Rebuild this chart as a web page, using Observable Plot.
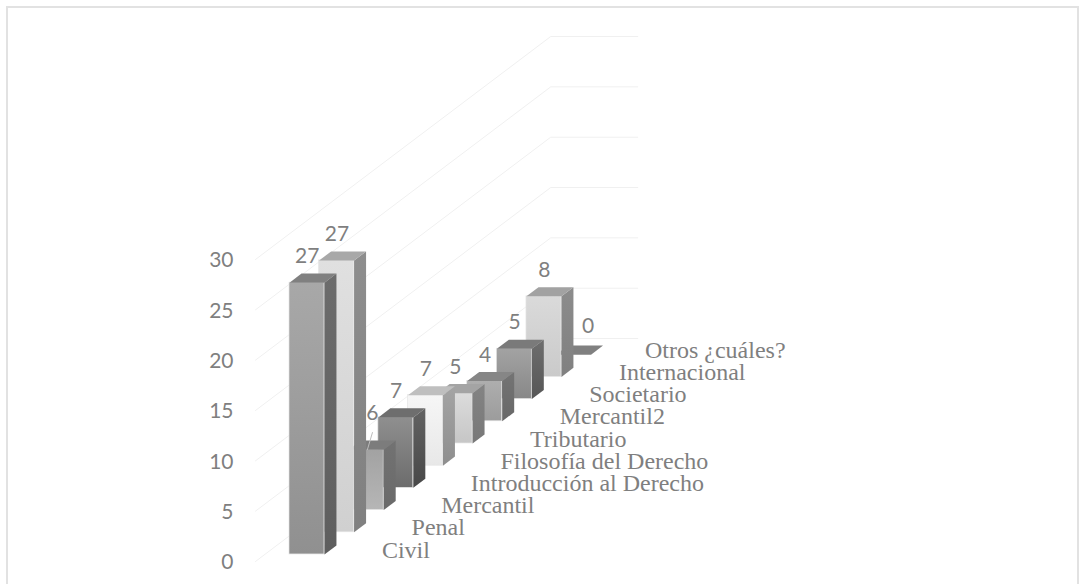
<!DOCTYPE html>
<html>
<head>
<meta charset="utf-8">
<script src="https://cdn.jsdelivr.net/npm/d3@7"></script>
<script src="https://cdn.jsdelivr.net/npm/@observablehq/plot@0.6"></script>
<style>
html,body{margin:0;padding:0;background:#fff;overflow:hidden}
#frame{position:absolute;left:6px;top:6px;width:1073px;height:620px;border:2px solid #e2e2e2;box-sizing:border-box}
#chart{position:absolute;left:0;top:0}
</style>
</head>
<body>
<div id="frame"></div>
<div id="chart"></div>
<script>
const categories = ["Civil","Penal","Mercantil","Introducción al Derecho","Filosofía del Derecho","Tributario","Mercantil2","Societario","Internacional","Otros ¿cuáles?"];
const values = [27,27,6,7,7,5,4,5,8,0];
const yTicks = [0,5,10,15,20,25,30];

// grey shades per bar: front gradient top, front gradient bottom, side top, side bottom, top face
const frontTop    = ["#a8a8a8","#e0e0e0","#a2a2a2","#8f8f8f","#f6f6f6","#dcdcdc","#aeaeae","#a3a3a3","#dadada","#808080"];
const frontBottom = ["#909090","#d0d0d0","#b6b6b6","#6c6c6c","#e8e8e8","#c6c6c6","#9c9c9c","#888888","#cacaca","#808080"];
const sideTop     = ["#6c6c6c","#8e8e8e","#727272","#626262","#a4a4a4","#848484","#747474","#6e6e6e","#8c8c8c","#808080"];
const sideBottom  = ["#5e5e5e","#808080","#6a6a6a","#484848","#8e8e8e","#787878","#686868","#565656","#808080","#808080"];
const topFace     = ["#808080","#a8a8a8","#7c7c7c","#6e6e6e","#bfbfbf","#a4a4a4","#868686","#7a7a7a","#a2a2a2","#808080"];

// oblique projection, in scale units (x: one category step, y: one value unit)
const rise = 2.205;      // vertical shift per category
const floorY = 0.7;      // bar base of first category
const barW = 1.18;       // bar width
const depX = 0.405;      // bar depth, horizontal
const depY = 0.9;        // bar depth, vertical

const bars = categories.map((c,i)=>({category:c,value:values[i],i,b:floorY+i*rise}));

const gridRows = yTicks.flatMap(t=>[
  {t,x:-1.149,y:t},
  {t,x:8.818,y:t+22.15},
  {t,x:11.757,y:t+22.15}
]);

const gradients = ()=>{
  const defs = d3.create("svg:defs");
  const add=(id,a,b)=>{
    const g=defs.append("linearGradient").attr("id",id).attr("x1",0).attr("x2",0).attr("y1",0).attr("y2",1);
    g.append("stop").attr("offset","0%").attr("stop-color",a);
    g.append("stop").attr("offset","100%").attr("stop-color",b);
  };
  bars.forEach(d=>{
    add("front"+d.i,frontTop[d.i],frontBottom[d.i]);
    add("side"+d.i,sideTop[d.i],sideBottom[d.i]);
  });
  return defs.node();
};

const barMarks = bars.slice().reverse().flatMap(d=>{
  const {i,b,value:v}=d;
  const side=[[i+barW,b],[i+barW+depX,b+depY],[i+barW+depX,b+depY+v],[i+barW,b+v]];
  const top=[[i,b+v],[i+barW,b+v],[i+barW+depX,b+v+depY],[i+depX,b+v+depY]];
  const marks=[];
  if(v>0){
    marks.push(Plot.rect([d],{x1:()=>i,x2:()=>i+barW,y1:()=>b,y2:()=>b+v,fill:`url(#front${i})`,stroke:"#e4e4e4",strokeWidth:0.7}));
    marks.push(Plot.line(side,{x:p=>p[0],y:p=>p[1],fill:`url(#side${i})`,stroke:"none"}));
  }
  marks.push(Plot.line(top,{x:p=>p[0],y:p=>p[1],fill:topFace[i],stroke:"none"}));
  return marks;
});

const labelShift = {2:[0.2,1.0],9:[0.48,0.2]};
const labelRows = bars.map(d=>{
  const s=labelShift[d.i]||[0,0];
  return {value:d.value,x:d.i+0.6+s[0],y:d.b+d.value+2.6+s[1]};
});

const chart = Plot.plot({
  width:1086,height:584,
  marginLeft:233,marginRight:0,marginTop:0,marginBottom:0,
  style:{background:"transparent",overflow:"visible"},
  x:{domain:[0,9],range:[289,555.6],axis:null},
  y:{domain:[0,30],range:[561,259],axis:null},
  marks:[
    gradients,
    Plot.line(gridRows,{x:"x",y:"y",z:"t",stroke:"#f0f0f0",strokeWidth:1}),
    Plot.axisY(yTicks,{anchor:"left",tickSize:0,tickPadding:0,label:null,fontSize:21,fontFamily:"Lato",fill:"#7f7f7f",dy:1}),
    ...barMarks,
    Plot.line([{x:2+0.8,y:floorY+2*rise+6+1.7},{x:2+0.63,y:floorY+2*rise+6}],{x:"x",y:"y",stroke:"#bdbdbd",strokeWidth:1}),
    Plot.text(labelRows,{x:"x",y:"y",text:"value",fontSize:21,fontFamily:"Lato",fill:"#7f7f7f"}),
    Plot.text(bars,{x:d=>d.i+3.12-(d.i===9?0.12:0),y:d=>d.b+0.45,text:"category",textAnchor:"start",fontSize:24,fontFamily:"Liberation Serif",fill:"#7f7f7f"})
  ]
});
document.getElementById("chart").append(chart);
</script>
</body>
</html>
